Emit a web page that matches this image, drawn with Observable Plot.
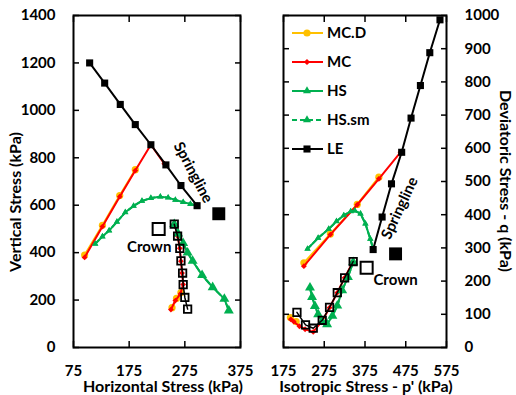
<!DOCTYPE html>
<html><head><meta charset="utf-8">
<script src="https://cdn.jsdelivr.net/npm/d3@7"></script>
<script src="https://cdn.jsdelivr.net/npm/@observablehq/plot@0.6"></script>
<style>
body{margin:0;background:#fff}
#chart{position:relative;width:516px;height:395px;font-family:Lato,sans-serif;font-weight:bold}
#chart svg{position:absolute;top:0}
</style></head>
<body><div id="chart"></div>
<script>
// ---------- Left panel: Horizontal stress (x) vs Vertical stress (y), kPa ----------
const hTicks = [75, 175, 275, 375];
const vTicks = [0, 200, 400, 600, 800, 1000, 1200, 1400];

const leSpringH = [104, 131, 159, 186, 214, 241, 268, 297];
const leSpringV = [1200, 1115, 1025, 940, 855, 770, 683, 598];
const leCrownH = [280, 275, 272, 271, 268, 266, 262, 256];
const leCrownV = [162, 211, 265, 314, 365, 418, 470, 520];

const mcSpringH = [95, 127, 158, 186, 214, 238];
const mcSpringV = [380, 510, 636, 746, 855, 775];
const mcCrownH = [250, 258, 267, 272, 270, 268, 266, 262, 257];
const mcCrownV = [160, 198, 226, 266, 314, 364, 418, 470, 518];

const mcdSpringH = [95, 127, 158, 186];
const mcdSpringV = [390, 515, 641, 750];
const mcdCrownH = [252, 260, 268];
const mcdCrownV = [168, 207, 232];

const hsSpringH = [114, 127, 139, 153, 168, 183, 198, 214, 231, 245, 258, 272, 285, 297];
const hsSpringV = [437, 468, 493, 530, 570, 597, 618, 630, 636, 632, 622, 613, 605, 598];
const hsCrownH = [256, 263, 272, 280, 289, 306, 325, 346, 354];
const hsCrownV = [520, 480, 440, 400, 365, 305, 254, 205, 156];

const hssmSpringH = [114, 127, 139, 153, 168, 183, 198, 214, 231, 245, 258, 272, 285, 297];
const hssmSpringV = [437, 468, 493, 530, 570, 597, 618, 630, 636, 632, 622, 613, 605, 598];
const hssmCrownH = [256, 263, 272, 280, 289, 306, 325, 346, 354];
const hssmCrownV = [520, 480, 440, 400, 365, 305, 254, 205, 156];

// annotation markers / labels (data units)
const leftAnnoSpring = {x: 336, y: 564, lx: 290, ly: 738, text: "Springline"};
const leftAnnoCrown = {x: 228, y: 500, lx: 211, ly: 422, text: "Crown"};

// ---------- Right panel: Isotropic stress p' (x) vs Deviatoric stress q (y), kPa ----------
const pTicks = [175, 275, 375, 475, 575];
const qTicks = [0, 100, 200, 300, 400, 500, 600, 700, 800, 900, 1000];

const leSpringP = [395, 417, 440, 465, 488, 511, 534, 559];
const leSpringQ = [295, 393, 493, 588, 691, 789, 888, 987];
const leCrownP = [208, 229, 248, 270, 288, 307, 325, 346];
const leCrownQ = [106, 68, 58, 82, 121, 165, 210, 259];

const mcSpringP = [225, 290, 356, 409, 462];
const mcSpringQ = [245, 340, 430, 508, 588];
const mcCrownP = [193, 200, 214, 228, 248, 270, 288, 307, 325, 346];
const mcCrownQ = [85, 78, 64, 55, 47, 80, 120, 165, 210, 259];

const mcdSpringP = [225, 290, 356, 409];
const mcdSpringQ = [255, 342, 431, 513];
const mcdCrownP = [192, 206];
const mcdCrownQ = [90, 78];

const hsSpringP = [234, 260, 286, 305, 323, 340, 350, 364, 376, 388, 395];
const hsSpringQ = [297, 330, 357, 380, 398, 410, 412, 403, 373, 327, 297];
const hsCrownP = [240, 245, 252, 260, 270, 282, 295, 307, 319, 333, 346];
const hsCrownQ = [180, 152, 125, 100, 78, 70, 95, 126, 172, 212, 257];

const hssmSpringP = [234, 260, 286, 305, 323, 340, 350, 364, 376, 388, 395];
const hssmSpringQ = [297, 330, 357, 380, 398, 410, 412, 403, 373, 327, 297];
const hssmCrownP = [240, 245, 252, 260, 270, 282, 295, 307, 319, 333, 346];
const hssmCrownQ = [180, 152, 125, 100, 78, 70, 95, 126, 172, 212, 257];

const rightAnnoSpring = {x: 450, y: 282, lx: 460, ly: 420, text: "Springline"};
const rightAnnoCrown = {x: 379, y: 240, lx: 450, ly: 202, text: "Crown"};

// legend
const legendNames = ["MC.D", "MC", "HS", "HS.sm", "LE"];

// ---------- styling ----------
const ORANGE = "#FFC000", RED = "#FF0000", GREEN = "#00B050", BLACK = "#000000";
const zip = (xs, ys) => xs.map((x, i) => ({x, y: ys[i]}));
const fontStyle = {fontFamily: "Lato, sans-serif", fontWeight: "bold", fontSize: "15px", background: "transparent", overflow: "visible"};
const plain = d => String(d);

function seriesMarks(S) {
  const m = [];
  for (const d of [S.mcdS, S.mcdC]) {
    m.push(Plot.line(d, {x: "x", y: "y", stroke: ORANGE, strokeWidth: 2}));
    m.push(Plot.dot(d, {x: "x", y: "y", fill: ORANGE, r: 3.6, symbol: "circle"}));
  }
  for (const d of [S.mcS, S.mcC]) {
    m.push(Plot.line(d, {x: "x", y: "y", stroke: RED, strokeWidth: 2}));
    m.push(Plot.dot(d, {x: "x", y: "y", fill: RED, r: 2.6, symbol: "diamond2"}));
  }
  m.push(Plot.line(S.hssmS, {x: "x", y: "y", stroke: GREEN, strokeWidth: 2, strokeDasharray: "5,3"}));
  m.push(Plot.dot(S.hssmS, {x: "x", y: "y", fill: GREEN, r: 2.2, symbol: "triangle"}));
  m.push(Plot.line(S.hssmC, {x: "x", y: "y", stroke: GREEN, strokeWidth: 2, strokeDasharray: "5,3"}));
  m.push(Plot.dot(S.hssmC, {x: "x", y: "y", fill: GREEN, r: 2.6, symbol: "triangle"}));
  m.push(Plot.line(S.hsS, {x: "x", y: "y", stroke: GREEN, strokeWidth: 2}));
  m.push(Plot.dot(S.hsS, {x: "x", y: "y", fill: GREEN, r: 2.4, symbol: "triangle"}));
  m.push(Plot.line(S.hsC, {x: "x", y: "y", stroke: GREEN, strokeWidth: 2}));
  m.push(Plot.dot(S.hsC, {x: "x", y: "y", fill: GREEN, r: 3.7, symbol: "triangle"}));
  m.push(Plot.line(S.leS, {x: "x", y: "y", stroke: BLACK, strokeWidth: 2}));
  m.push(Plot.dot(S.leS, {x: "x", y: "y", fill: BLACK, r: 4, symbol: "square"}));
  m.push(Plot.line(S.leC, {x: "x", y: "y", stroke: BLACK, strokeWidth: 1.5}));
  m.push(Plot.dot(S.leC, {x: "x", y: "y", stroke: BLACK, fill: "none", strokeWidth: 1.8, r: 4.2, symbol: "square"}));
  m.push(Plot.dot([S.annoS], {x: "x", y: "y", fill: BLACK, r: 7.3, symbol: "square"}));
  m.push(Plot.dot([S.annoC], {x: "x", y: "y", stroke: BLACK, fill: "white", strokeWidth: 2, r: 6.8, symbol: "square"}));
  m.push(Plot.text([S.annoS], {x: "lx", y: "ly", text: "text", rotate: S.rot, fontSize: 15, fontWeight: "bold", fill: BLACK}));
  m.push(Plot.text([S.annoC], {x: "lx", y: "ly", text: "text", fontSize: 15, fontWeight: "bold", fill: BLACK}));
  return m;
}

function axes(xt, yt, ySide) {
  const other = ySide === "left" ? "right" : "left";
  return [
    Plot.axisX({anchor: "bottom", ticks: xt, tickSize: 0, tickPadding: 18, label: null, fontSize: 15, tickFormat: plain}),
    Plot.axisX({anchor: "bottom", ticks: xt, tickSize: -6, tickFormat: () => "", label: null, strokeWidth: 1.5}),
    Plot.axisX({anchor: "top", ticks: xt, tickSize: -6, tickFormat: () => "", label: null, strokeWidth: 1.5}),
    Plot.axisY({anchor: ySide, ticks: yt, tickSize: 0, tickPadding: 18, label: null, fontSize: 15, tickFormat: plain}),
    Plot.axisY({anchor: ySide, ticks: yt, tickSize: -6, tickFormat: () => "", label: null, strokeWidth: 1.5}),
    Plot.axisY({anchor: other, ticks: yt, tickSize: -6, tickFormat: () => "", label: null, strokeWidth: 1.5}),
    Plot.frame({stroke: BLACK, strokeWidth: 2})
  ];
}

const leftPlot = Plot.plot({
  width: 258, height: 395, marginLeft: 73, marginRight: 18, marginTop: 15, marginBottom: 48,
  x: {domain: [75, 375]}, y: {domain: [0, 1400]}, style: fontStyle,
  marks: [
    ...seriesMarks({
      mcdS: zip(mcdSpringH, mcdSpringV), mcdC: zip(mcdCrownH, mcdCrownV),
      mcS: zip(mcSpringH, mcSpringV), mcC: zip(mcCrownH, mcCrownV),
      hsS: zip(hsSpringH, hsSpringV), hsC: zip(hsCrownH, hsCrownV),
      hssmS: zip(hssmSpringH, hssmSpringV), hssmC: zip(hssmCrownH, hssmCrownV),
      leS: zip(leSpringH, leSpringV), leC: zip(leCrownH, leCrownV),
      annoS: leftAnnoSpring, annoC: leftAnnoCrown, rot: 62
    }),
    ...axes(hTicks, vTicks, "left")
  ]
});

const rightPlot = Plot.plot({
  width: 258, height: 395, marginLeft: 25, marginRight: 70, marginTop: 15, marginBottom: 48,
  x: {domain: [175, 575]}, y: {domain: [0, 1000]}, style: fontStyle,
  marks: [
    ...seriesMarks({
      mcdS: zip(mcdSpringP, mcdSpringQ), mcdC: zip(mcdCrownP, mcdCrownQ),
      mcS: zip(mcSpringP, mcSpringQ), mcC: zip(mcCrownP, mcCrownQ),
      hsS: zip(hsSpringP, hsSpringQ), hsC: zip(hsCrownP, hsCrownQ),
      hssmS: zip(hssmSpringP, hssmSpringQ), hssmC: zip(hssmCrownP, hssmCrownQ),
      leS: zip(leSpringP, leSpringQ), leC: zip(leCrownP, leCrownQ),
      annoS: rightAnnoSpring, annoC: rightAnnoCrown, rot: -65
    }),
    ...axes(pTicks, qTicks, "right")
  ]
});

const chart = document.getElementById("chart");
leftPlot.style.left = "0px";
rightPlot.style.left = "258px";
chart.appendChild(leftPlot);
chart.appendChild(rightPlot);

// ---------- titles and legend overlay ----------
const ov = d3.select(chart).append("svg")
  .attr("width", 516).attr("height", 395)
  .style("left", "0px").style("pointer-events", "none")
  .attr("font-family", "Lato, sans-serif").attr("font-weight", "bold").attr("font-size", 16);

ov.append("text").attr("x", 163).attr("y", 386).attr("dy", "0.35em").attr("text-anchor", "middle").text("Horizontal Stress (kPa)");
ov.append("text").attr("x", 366).attr("y", 386).attr("dy", "0.35em").attr("text-anchor", "middle").text("Isotropic Stress - p' (kPa)");
ov.append("text").attr("transform", "translate(15,202) rotate(-90)").attr("dy", "0.35em").attr("text-anchor", "middle").text("Vertical Stress (kPa)");
ov.append("text").attr("transform", "translate(506,181) rotate(90)").attr("dy", "0.35em").attr("text-anchor", "middle").text("Deviatoric Stress - q (kPa)");

const legColors = [ORANGE, RED, GREEN, GREEN, BLACK];
const legSymbols = [d3.symbolCircle, d3.symbolDiamond2, d3.symbolTriangle, d3.symbolTriangle, d3.symbolSquare];
const legSizes = [Math.PI * 3.6 * 3.6, Math.PI * 2.8 * 2.8, Math.PI * 3 * 3, Math.PI * 3 * 3, Math.PI * 4 * 4];
legendNames.forEach((name, i) => {
  const y = 33 + i * 29;
  const g = ov.append("g");
  g.append("line").attr("x1", 292).attr("x2", 323).attr("y1", y).attr("y2", y)
    .attr("stroke", legColors[i]).attr("stroke-width", 2)
    .attr("stroke-dasharray", name === "HS.sm" ? "5,3" : null);
  g.append("path").attr("d", d3.symbol(legSymbols[i], legSizes[i])())
    .attr("transform", `translate(307,${y})`).attr("fill", legColors[i]);
  g.append("text").attr("x", 327).attr("y", y).attr("dy", "0.35em").attr("font-size", 15).text(name);
});
</script>
</body></html>
